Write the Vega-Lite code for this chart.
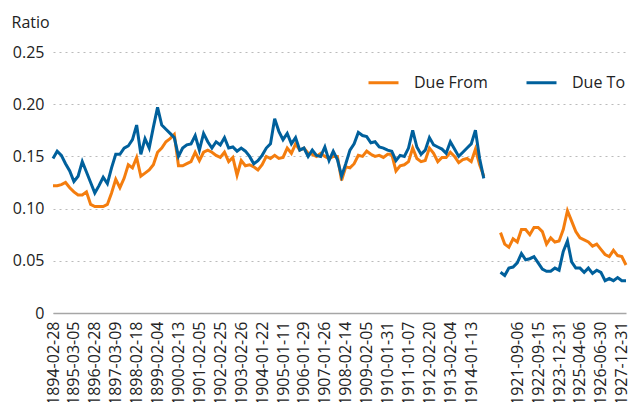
{
  "$schema": "https://vega.github.io/schema/vega-lite/v6.json",
  "width": 573,
  "height": 261,
  "autosize": {"type": "none"},
  "padding": {"left": 53, "top": 52, "right": 2, "bottom": 89},
  "config": {
    "font": "Open Sans",
    "view": {"stroke": null},
    "axis": {"labelColor": "#222222", "titleColor": "#222222"},
    "legend": {"labelColor": "#222222"}
  },
  "data": {
    "values": [
      {"date": "1894-02-28", "Due From": 0.122, "Due To": 0.148},
      {"date": "1894-05-04", "Due From": 0.122, "Due To": 0.155},
      {"date": "1894-07-18", "Due From": 0.123, "Due To": 0.151},
      {"date": "1894-10-02", "Due From": 0.125, "Due To": 0.143},
      {"date": "1894-12-19", "Due From": 0.120, "Due To": 0.136},
      {"date": "1895-03-05", "Due From": 0.116, "Due To": 0.126},
      {"date": "1895-05-07", "Due From": 0.113, "Due To": 0.131},
      {"date": "1895-07-11", "Due From": 0.113, "Due To": 0.145},
      {"date": "1895-09-28", "Due From": 0.116, "Due To": 0.135},
      {"date": "1895-12-13", "Due From": 0.104, "Due To": 0.125},
      {"date": "1896-02-28", "Due From": 0.102, "Due To": 0.115},
      {"date": "1896-05-07", "Due From": 0.102, "Due To": 0.122},
      {"date": "1896-07-14", "Due From": 0.102, "Due To": 0.130},
      {"date": "1896-10-06", "Due From": 0.104, "Due To": 0.124},
      {"date": "1896-12-17", "Due From": 0.115, "Due To": 0.139},
      {"date": "1897-03-09", "Due From": 0.128, "Due To": 0.152},
      {"date": "1897-05-14", "Due From": 0.120, "Due To": 0.152},
      {"date": "1897-07-23", "Due From": 0.129, "Due To": 0.158},
      {"date": "1897-10-05", "Due From": 0.142, "Due To": 0.160},
      {"date": "1897-12-15", "Due From": 0.139, "Due To": 0.166},
      {"date": "1898-02-18", "Due From": 0.149, "Due To": 0.180},
      {"date": "1898-05-05", "Due From": 0.131, "Due To": 0.152},
      {"date": "1898-07-14", "Due From": 0.134, "Due To": 0.167},
      {"date": "1898-09-20", "Due From": 0.137, "Due To": 0.158},
      {"date": "1898-12-01", "Due From": 0.142, "Due To": 0.178},
      {"date": "1899-02-04", "Due From": 0.154, "Due To": 0.197},
      {"date": "1899-04-05", "Due From": 0.158, "Due To": 0.180},
      {"date": "1899-06-30", "Due From": 0.164, "Due To": 0.176},
      {"date": "1899-09-07", "Due From": 0.167, "Due To": 0.172},
      {"date": "1899-12-02", "Due From": 0.171, "Due To": 0.168},
      {"date": "1900-02-13", "Due From": 0.141, "Due To": 0.150},
      {"date": "1900-04-26", "Due From": 0.141, "Due To": 0.158},
      {"date": "1900-06-29", "Due From": 0.143, "Due To": 0.161},
      {"date": "1900-09-05", "Due From": 0.145, "Due To": 0.162},
      {"date": "1900-12-13", "Due From": 0.154, "Due To": 0.170},
      {"date": "1901-02-05", "Due From": 0.146, "Due To": 0.156},
      {"date": "1901-04-24", "Due From": 0.154, "Due To": 0.172},
      {"date": "1901-07-15", "Due From": 0.156, "Due To": 0.164},
      {"date": "1901-09-30", "Due From": 0.154, "Due To": 0.158},
      {"date": "1901-12-10", "Due From": 0.151, "Due To": 0.164},
      {"date": "1902-02-25", "Due From": 0.149, "Due To": 0.161},
      {"date": "1902-04-30", "Due From": 0.154, "Due To": 0.168},
      {"date": "1902-07-16", "Due From": 0.145, "Due To": 0.158},
      {"date": "1902-09-15", "Due From": 0.149, "Due To": 0.159},
      {"date": "1902-11-25", "Due From": 0.132, "Due To": 0.155},
      {"date": "1903-02-26", "Due From": 0.146, "Due To": 0.158},
      {"date": "1903-04-09", "Due From": 0.141, "Due To": 0.155},
      {"date": "1903-06-09", "Due From": 0.142, "Due To": 0.150},
      {"date": "1903-09-09", "Due From": 0.140, "Due To": 0.143},
      {"date": "1903-11-17", "Due From": 0.137, "Due To": 0.146},
      {"date": "1904-01-22", "Due From": 0.142, "Due To": 0.151},
      {"date": "1904-03-28", "Due From": 0.150, "Due To": 0.158},
      {"date": "1904-06-09", "Due From": 0.148, "Due To": 0.162},
      {"date": "1904-09-06", "Due From": 0.151, "Due To": 0.186},
      {"date": "1904-11-10", "Due From": 0.148, "Due To": 0.174},
      {"date": "1905-01-11", "Due From": 0.149, "Due To": 0.166},
      {"date": "1905-03-14", "Due From": 0.158, "Due To": 0.172},
      {"date": "1905-05-29", "Due From": 0.153, "Due To": 0.162},
      {"date": "1905-08-25", "Due From": 0.162, "Due To": 0.168},
      {"date": "1905-11-09", "Due From": 0.156, "Due To": 0.156},
      {"date": "1906-01-29", "Due From": 0.158, "Due To": 0.158},
      {"date": "1906-04-06", "Due From": 0.153, "Due To": 0.150},
      {"date": "1906-06-18", "Due From": 0.152, "Due To": 0.156},
      {"date": "1906-09-04", "Due From": 0.150, "Due To": 0.151},
      {"date": "1906-11-12", "Due From": 0.153, "Due To": 0.150},
      {"date": "1907-01-26", "Due From": 0.150, "Due To": 0.159},
      {"date": "1907-03-22", "Due From": 0.148, "Due To": 0.146},
      {"date": "1907-05-20", "Due From": 0.150, "Due To": 0.155},
      {"date": "1907-08-22", "Due From": 0.150, "Due To": 0.147},
      {"date": "1907-12-03", "Due From": 0.127, "Due To": 0.131},
      {"date": "1908-02-14", "Due From": 0.140, "Due To": 0.143},
      {"date": "1908-05-14", "Due From": 0.139, "Due To": 0.156},
      {"date": "1908-07-15", "Due From": 0.143, "Due To": 0.162},
      {"date": "1908-09-23", "Due From": 0.151, "Due To": 0.173},
      {"date": "1908-11-27", "Due From": 0.150, "Due To": 0.170},
      {"date": "1909-02-05", "Due From": 0.155, "Due To": 0.169},
      {"date": "1909-04-28", "Due From": 0.152, "Due To": 0.163},
      {"date": "1909-06-23", "Due From": 0.150, "Due To": 0.164},
      {"date": "1909-09-01", "Due From": 0.151, "Due To": 0.159},
      {"date": "1909-11-16", "Due From": 0.149, "Due To": 0.158},
      {"date": "1910-01-31", "Due From": 0.152, "Due To": 0.156},
      {"date": "1910-03-29", "Due From": 0.152, "Due To": 0.155},
      {"date": "1910-06-30", "Due From": 0.136, "Due To": 0.146},
      {"date": "1910-09-01", "Due From": 0.141, "Due To": 0.151},
      {"date": "1910-11-10", "Due From": 0.142, "Due To": 0.150},
      {"date": "1911-01-07", "Due From": 0.145, "Due To": 0.158},
      {"date": "1911-03-07", "Due From": 0.158, "Due To": 0.175},
      {"date": "1911-06-07", "Due From": 0.148, "Due To": 0.159},
      {"date": "1911-09-01", "Due From": 0.145, "Due To": 0.152},
      {"date": "1911-12-05", "Due From": 0.146, "Due To": 0.156},
      {"date": "1912-02-20", "Due From": 0.158, "Due To": 0.168},
      {"date": "1912-04-18", "Due From": 0.153, "Due To": 0.161},
      {"date": "1912-06-14", "Due From": 0.145, "Due To": 0.159},
      {"date": "1912-09-04", "Due From": 0.149, "Due To": 0.157},
      {"date": "1912-11-26", "Due From": 0.149, "Due To": 0.153},
      {"date": "1913-02-04", "Due From": 0.154, "Due To": 0.164},
      {"date": "1913-04-04", "Due From": 0.150, "Due To": 0.157},
      {"date": "1913-06-04", "Due From": 0.144, "Due To": 0.150},
      {"date": "1913-08-09", "Due From": 0.147, "Due To": 0.154},
      {"date": "1913-10-21", "Due From": 0.148, "Due To": 0.158},
      {"date": "1914-01-13", "Due From": 0.145, "Due To": 0.162},
      {"date": "1914-03-04", "Due From": 0.157, "Due To": 0.175},
      {"date": "1914-06-30", "Due From": 0.142, "Due To": 0.148},
      {"date": "1914-09-12", "Due From": 0.131, "Due To": 0.129},
      {"date": "1914-10-31", "Due From": null, "Due To": null},
      {"date": "1914-12-31", "Due From": null, "Due To": null},
      {"date": "1920-11-15", "Due From": null, "Due To": null},
      {"date": "1920-12-29", "Due From": 0.077, "Due To": 0.039},
      {"date": "1921-02-21", "Due From": 0.066, "Due To": 0.036},
      {"date": "1921-04-28", "Due From": 0.063, "Due To": 0.043},
      {"date": "1921-06-30", "Due From": 0.071, "Due To": 0.044},
      {"date": "1921-09-06", "Due From": 0.068, "Due To": 0.048},
      {"date": "1921-12-31", "Due From": 0.080, "Due To": 0.057},
      {"date": "1922-03-10", "Due From": 0.080, "Due To": 0.051},
      {"date": "1922-05-05", "Due From": 0.075, "Due To": 0.052},
      {"date": "1922-06-30", "Due From": 0.082, "Due To": 0.054},
      {"date": "1922-09-15", "Due From": 0.082, "Due To": 0.048},
      {"date": "1922-12-29", "Due From": 0.078, "Due To": 0.042},
      {"date": "1923-04-03", "Due From": 0.066, "Due To": 0.040},
      {"date": "1923-06-30", "Due From": 0.072, "Due To": 0.040},
      {"date": "1923-09-14", "Due From": 0.068, "Due To": 0.043},
      {"date": "1923-12-31", "Due From": 0.069, "Due To": 0.041},
      {"date": "1924-03-31", "Due From": 0.080, "Due To": 0.059},
      {"date": "1924-06-30", "Due From": 0.098, "Due To": 0.069},
      {"date": "1924-10-10", "Due From": 0.088, "Due To": 0.049},
      {"date": "1924-12-31", "Due From": 0.078, "Due To": 0.043},
      {"date": "1925-04-06", "Due From": 0.072, "Due To": 0.043},
      {"date": "1925-06-30", "Due From": 0.070, "Due To": 0.039},
      {"date": "1925-09-28", "Due From": 0.068, "Due To": 0.043},
      {"date": "1925-12-31", "Due From": 0.064, "Due To": 0.038},
      {"date": "1926-04-12", "Due From": 0.066, "Due To": 0.041},
      {"date": "1926-06-30", "Due From": 0.061, "Due To": 0.039},
      {"date": "1926-12-31", "Due From": 0.056, "Due To": 0.031},
      {"date": "1927-03-23", "Due From": 0.054, "Due To": 0.033},
      {"date": "1927-06-30", "Due From": 0.060, "Due To": 0.031},
      {"date": "1927-10-10", "Due From": 0.055, "Due To": 0.034},
      {"date": "1927-12-31", "Due From": 0.054, "Due To": 0.031},
      {"date": "1928-02-28", "Due From": 0.046, "Due To": 0.031}
    ]
  },
  "transform": [{"fold": ["Due From", "Due To"], "as": ["series", "ratio"]}],
  "mark": {"type": "line", "strokeWidth": 3},
  "encoding": {
    "x": {
      "field": "date",
      "type": "ordinal",
      "sort": null,
      "scale": {"type": "point", "padding": 0},
      "axis": {
        "title": null,
        "values": ["1894-02-28", "1895-03-05", "1896-02-28", "1897-03-09", "1898-02-18", "1899-02-04", "1900-02-13", "1901-02-05", "1902-02-25", "1903-02-26", "1904-01-22", "1905-01-11", "1906-01-29", "1907-01-26", "1908-02-14", "1909-02-05", "1910-01-31", "1911-01-07", "1912-02-20", "1913-02-04", "1914-01-13", "1921-09-06", "1922-09-15", "1923-12-31", "1925-04-06", "1926-06-30", "1927-12-31"],
        "labelAngle": 270,
        "labelFontSize": 16,
        "labelPadding": 8,
        "ticks": false,
        "grid": false,
        "domainColor": "#A6A6A6",
        "domainWidth": 1.5,
        "zindex": 1
      }
    },
    "y": {
      "field": "ratio",
      "type": "quantitative",
      "scale": {"domain": [0, 0.25]},
      "axis": {
        "title": "Ratio",
        "titleAngle": 0,
        "titleAlign": "left",
        "titleBaseline": "alphabetic",
        "titleX": -42,
        "titleY": -25,
        "titleFontSize": 16,
        "titleFontWeight": "normal",
        "values": [0, 0.05, 0.1, 0.15, 0.2, 0.25],
        "labelExpr": "datum.value == 0 ? '0' : format(datum.value, '.2f')",
        "labelFontSize": 16,
        "labelPadding": 9,
        "ticks": false,
        "domain": false,
        "gridDash": [2, 4],
        "gridColor": "#BBBBBB",
        "gridWidth": 1.2
      }
    },
    "color": {
      "field": "series",
      "type": "nominal",
      "scale": {"domain": ["Due From", "Due To"], "range": ["#F47D0E", "#00609C"]},
      "legend": {
        "title": null,
        "orient": "none",
        "legendX": 314,
        "legendY": 14,
        "direction": "horizontal",
        "symbolType": "stroke",
        "symbolSize": 900,
        "symbolStrokeWidth": 3,
        "labelFontSize": 16,
        "labelOffset": 14,
        "columnPadding": 32
      }
    }
  }
}
